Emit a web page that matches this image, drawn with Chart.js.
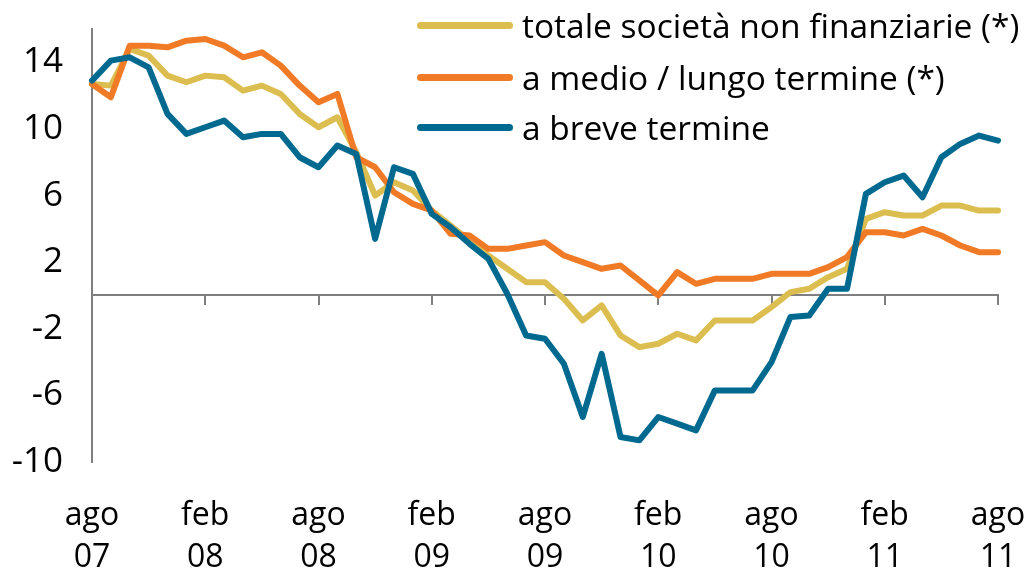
<!DOCTYPE html>
<html>
<head>
<meta charset="utf-8">
<script src="https://cdn.jsdelivr.net/npm/chart.js@4.4.1/dist/chart.umd.min.js"></script>
<style>
  html, body { margin: 0; padding: 0; background: #fff; }
  #wrap { position: relative; width: 1030px; height: 573px; }
  #legend { position: absolute; left: 417px; top: 0; font-family: 'Open Sans', sans-serif; font-size: 33.5px; color: #000; }
  .legend-item { position: absolute; left: 0; display: flex; align-items: center; white-space: nowrap; height: 40px; }
  .legend-swatch { width: 96px; height: 7px; border-radius: 4px; margin-right: 9px; }
</style>
</head>
<body>
<div id="wrap">
  <canvas id="chart" width="1030" height="573"></canvas>
  <div id="legend"></div>
</div>
<script>
// months, ago 07 .. ago 11
const months = [
  'ago 07', 'set 07', 'ott 07', 'nov 07', 'dic 07', 'gen 08',
  'feb 08', 'mar 08', 'apr 08', 'mag 08', 'giu 08', 'lug 08',
  'ago 08', 'set 08', 'ott 08', 'nov 08', 'dic 08', 'gen 09',
  'feb 09', 'mar 09', 'apr 09', 'mag 09', 'giu 09', 'lug 09',
  'ago 09', 'set 09', 'ott 09', 'nov 09', 'dic 09', 'gen 10',
  'feb 10', 'mar 10', 'apr 10', 'mag 10', 'giu 10', 'lug 10',
  'ago 10', 'set 10', 'ott 10', 'nov 10', 'dic 10', 'gen 11',
  'feb 11', 'mar 11', 'apr 11', 'mag 11', 'giu 11', 'lug 11',
  'ago 11'
];

const totale = [
  12.7, 12.6, 14.8, 14.4, 13.2, 12.8, 13.2, 13.1, 12.3, 12.6, 12.1, 10.9,
  10.1, 10.7, 8.6, 6.0, 6.8, 6.3, 5.1, 4.2, 3.3, 2.4, 1.6, 0.8,
  0.8, -0.2, -1.5, -0.6, -2.4, -3.1, -2.9, -2.3, -2.7, -1.5, -1.5, -1.5,
  -0.7, 0.2, 0.4, 1.1, 1.6, 4.6, 5.0, 4.8, 4.8, 5.4, 5.4, 5.1,
  5.1
];

const medioLungo = [
  12.7, 11.9, 15.0, 15.0, 14.9, 15.3, 15.4, 15.0, 14.3, 14.6, 13.8, 12.6,
  11.6, 12.1, 8.3, 7.7, 6.2, 5.5, 5.1, 3.7, 3.6, 2.8, 2.8, 3.0,
  3.2, 2.4, 2.0, 1.6, 1.8, 0.9, 0.0, 1.4, 0.7, 1.0, 1.0, 1.0,
  1.3, 1.3, 1.3, 1.7, 2.3, 3.8, 3.8, 3.6, 4.0, 3.6, 3.0, 2.6,
  2.6
];

const breve = [
  12.9, 14.1, 14.3, 13.7, 10.9, 9.7, 10.1, 10.5, 9.5, 9.7, 9.7, 8.3,
  7.7, 9.0, 8.5, 3.4, 7.7, 7.3, 4.9, 4.1, 3.1, 2.2, 0.1, -2.4,
  -2.6, -4.1, -7.3, -3.5, -8.5, -8.7, -7.3, -7.7, -8.1, -5.7, -5.7, -5.7,
  -4.0, -1.3, -1.2, 0.4, 0.4, 6.1, 6.8, 7.2, 5.9, 8.3, 9.1, 9.6,
  9.3
];

const yTicks = [-10, -6, -2, 2, 6, 10, 14];

const seriesNames = ['totale società non finanziarie (*)', 'a medio / lungo termine (*)', 'a breve termine'];
const seriesColors = ['#DCBE50', '#F07A25', '#00698F'];
const axisColor = '#7F7F7F';
const fontFamily = "'Open Sans', sans-serif";

const seriesData = [totale, medioLungo, breve];

const datasets = seriesData.map((d, i) => ({
  label: seriesNames[i],
  data: d,
  borderColor: seriesColors[i],
  backgroundColor: seriesColors[i],
  borderWidth: 6,
  pointRadius: 0,
  tension: 0,
  borderCapStyle: 'round',
  borderJoinStyle: 'round',
  order: 3 - i,
  clip: false
}));

// scales add their own label padding on top of layout padding; drop it
const noPad = s => { s.paddingTop = 0; s.paddingBottom = 0; s.paddingLeft = 0; s.paddingRight = 0; };

new Chart(document.getElementById('chart'), {
  type: 'line',
  data: { labels: months, datasets },
  options: {
    responsive: false,
    animation: false,
    layout: { padding: { top: 29, right: 32, bottom: 0, left: 0 } },
    plugins: { legend: { display: false }, tooltip: { enabled: false } },
    scales: {
      x: {
        type: 'category',
        position: 'bottom',
        offset: false,
        grid: { display: false },
        border: { display: false },
        ticks: {
          autoSkip: false,
          maxRotation: 0,
          padding: 24,
          color: '#000',
          font: { family: fontFamily, size: 32, lineHeight: 1.34 },
          callback: (v, i) => (i % 6 === 0 ? months[i].split(' ') : null)
        },
        afterFit: s => { s.height = 111; noPad(s); }
      },
      x2: {
        type: 'category',
        position: { y: 0 },
        offset: false,
        grid: {
          display: true,
          drawOnChartArea: false,
          drawTicks: true,
          tickLength: 9,
          lineWidth: 2,
          color: c => (c.index % 6 === 0 ? axisColor : 'rgba(0,0,0,0)')
        },
        border: { display: true, color: axisColor, width: 2 },
        ticks: { display: false },
        afterFit: noPad
      },
      y: {
        min: -10,
        max: 16,
        afterBuildTicks: s => { s.ticks = yTicks.map(v => ({ value: v })); },
        grid: { display: true, drawOnChartArea: false, drawTicks: false },
        border: { display: true, color: axisColor, width: 2 },
        ticks: {
          padding: 29,
          color: '#000',
          font: { family: fontFamily, size: 35 }
        },
        afterFit: s => { s.width = 92; noPad(s); }
      }
    }
  }
});

// legend drawn over the plot, top right
const legendEl = document.getElementById('legend');
const rowCenters = [25, 77, 127];
seriesNames.forEach((name, i) => {
  const row = document.createElement('div');
  row.className = 'legend-item';
  row.style.top = (rowCenters[i] - 20) + 'px';
  row.innerHTML = `<span class="legend-swatch" style="background:${seriesColors[i]}"></span><span class="legend-text">${name}</span>`;
  legendEl.appendChild(row);
});
</script>
</body>
</html>
